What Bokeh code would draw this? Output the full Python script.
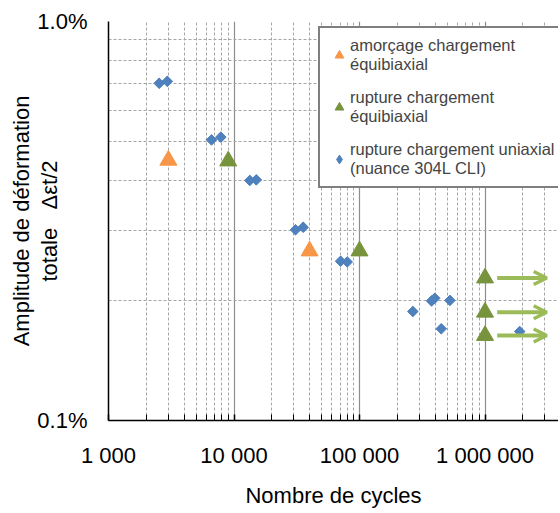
import numpy as np
from bokeh.plotting import figure
from bokeh.models import (FixedTicker, Legend, LegendItem, Arrow, OpenHead,
                          ColumnDataSource, Range1d)
from bokeh.embed import file_html
from bokeh.resources import INLINE

# ---------------- data ----------------
x_ticks = [1000, 10000, 100000, 1000000]
x_tick_labels = ["1 000", "10 000", "100 000", "1 000 000"]
y_ticks = [0.1, 1.0]
y_tick_labels = ["0.1%", "1.0%"]

# amorçage chargement équibiaxial
amor_n = [3000, 40000]
amor_eps = [0.449, 0.266]

# rupture chargement équibiaxial (runout = 1 : essai non rompu, flèche)
bi_n = [9000, 100000, 1000000, 1000000, 1000000]
bi_eps = [0.447, 0.266, 0.2276, 0.1868, 0.1633]
bi_runout = [0, 0, 1, 1, 1]

# rupture chargement uniaxial (nuance 304L CLI)
uni_n = [2535, 2940, 6620, 7850, 13360, 15050, 30900, 35600, 70700, 79800,
         266000, 375000, 398000, 525000, 448000, 1890000]
uni_eps = [0.700, 0.708, 0.505, 0.513, 0.3996, 0.401, 0.3006, 0.305, 0.2507, 0.2497,
           0.1876, 0.1994, 0.2025, 0.200, 0.1698, 0.1671]

legend_labels = ["amorçage chargement\néquibiaxial",
                 "rupture chargement\néquibiaxial",
                 "rupture chargement uniaxial\n(nuance 304L CLI)"]

x_title = "Nombre de cycles"
y_title = "Amplitude de déformation\ntotale\u00a0\u00a0\u00a0Δεt/2"

# ---------------- style ----------------
FONT = "Liberation Sans"
ORANGE = "#F79646"
GREEN = "#77933C"
LIGHT_GREEN = "#9BBB59"
BLUE = "#4F81BD"
GRID = "#A6A6A6"

p = figure(width=558, height=511, x_axis_type="log", y_axis_type="log",
           x_range=Range1d(1000, 3.85e6), y_range=Range1d(0.1, 1.0),
           output_backend="svg", toolbar_location=None,
           min_border_left=108, min_border_right=0, min_border_top=21, min_border_bottom=91)
p.outline_line_color = None
p.background_fill_color = "white"
p.border_fill_color = "white"

minor_x = [m * 10 ** e for e in range(3, 7) for m in range(2, 10)]
minor_y = [m / 10 for m in range(2, 10)]
p.xaxis.ticker = FixedTicker(ticks=x_ticks, minor_ticks=minor_x)
p.yaxis.ticker = FixedTicker(ticks=y_ticks, minor_ticks=minor_y)
p.xaxis.major_label_overrides = dict(zip(x_ticks, x_tick_labels))
p.yaxis.major_label_overrides = dict(zip(y_ticks, y_tick_labels))

for ax in (p.xaxis[0], p.yaxis[0]):
    ax.axis_line_color = "black"
    ax.axis_line_width = 1.5
    ax.major_label_text_font = FONT
    ax.major_label_text_font_size = "22px"
    ax.major_label_text_color = "black"
    ax.axis_label_text_font = FONT
    ax.axis_label_text_font_size = "22px"
    ax.axis_label_text_font_style = "normal"
    ax.axis_label_text_color = "black"

p.xaxis.axis_label = x_title
p.xaxis.axis_label_standoff = 12
p.yaxis.axis_label = y_title
p.yaxis.axis_label_standoff = -28
p.yaxis.axis_label_text_line_height = 1.14

p.xaxis.major_tick_in = 6
p.xaxis.major_tick_out = 0
p.xaxis.minor_tick_in = 6
p.xaxis.minor_tick_out = 0
p.xaxis.major_tick_line_color = "black"
p.xaxis.minor_tick_line_color = "black"
p.xaxis.major_tick_line_width = 1.5
p.xaxis.major_label_standoff = 22

p.yaxis.major_tick_in = 0
p.yaxis.major_tick_out = 0
p.yaxis.minor_tick_in = 0
p.yaxis.minor_tick_out = 0
p.yaxis.major_label_standoff = 21

p.xgrid.grid_line_color = "#8C8C8C"
p.xgrid.grid_line_width = 1.2
p.xgrid.minor_grid_line_color = GRID
p.xgrid.minor_grid_line_dash = "3 2"
p.ygrid.grid_line_color = "#7F7F7F"
p.ygrid.grid_line_width = 2
p.ygrid.minor_grid_line_color = GRID
p.ygrid.minor_grid_line_dash = "3 2"

# ---------------- glyphs ----------------
src_amor = ColumnDataSource(dict(n=amor_n, eps=amor_eps))
src_bi = ColumnDataSource(dict(n=bi_n, eps=bi_eps))
src_uni = ColumnDataSource(dict(n=uni_n, eps=uni_eps))

r_uni = p.scatter("n", "eps", source=src_uni, marker="square", angle=np.pi / 4,
                  size=7.5, fill_color=BLUE, line_color=BLUE)
# same points drawn as Bokeh diamonds (hidden inside the rotated squares) for the legend key
r_uni_key = p.scatter("n", "eps", source=src_uni, marker="diamond", size=9.5,
                      fill_color=BLUE, line_color=BLUE)
r_amor = p.scatter("n", "eps", source=src_amor, marker="triangle", size=17,
                   fill_color=ORANGE, line_color=ORANGE)
r_bi = p.scatter("n", "eps", source=src_bi, marker="triangle", size=17,
                 fill_color=GREEN, line_color=GREEN)

# run-out arrows
ro_n = np.array([n for n, r in zip(bi_n, bi_runout) if r])
ro_eps = [e for e, r in zip(bi_eps, bi_runout) if r]
src_arrow = ColumnDataSource(dict(x0=ro_n * 1.25, x1=ro_n * 3.1, y=ro_eps))
p.add_layout(Arrow(end=OpenHead(size=13, line_color=LIGHT_GREEN, line_width=3.5),
                   x_start="x0", y_start="y", x_end="x1", y_end="y",
                   line_color=LIGHT_GREEN, line_width=4, source=src_arrow))

# ---------------- legend ----------------
legend = Legend(items=[LegendItem(label=legend_labels[0], renderers=[r_amor]),
                       LegendItem(label=legend_labels[1], renderers=[r_bi]),
                       LegendItem(label=legend_labels[2], renderers=[r_uni_key])],
                location=(210, 232))
legend.label_text_font = FONT
legend.label_text_font_size = "16.5px"
legend.label_text_line_height = 1.15
legend.label_standoff = 0
legend.glyph_width = 22
legend.glyph_height = 24
legend.spacing = 14
legend.padding = 8
legend.margin = 0
legend.border_line_color = "black"
legend.border_line_width = 2
legend.background_fill_alpha = 1.0
p.add_layout(legend)

open("out.html", "w").write(file_html(p, INLINE))
